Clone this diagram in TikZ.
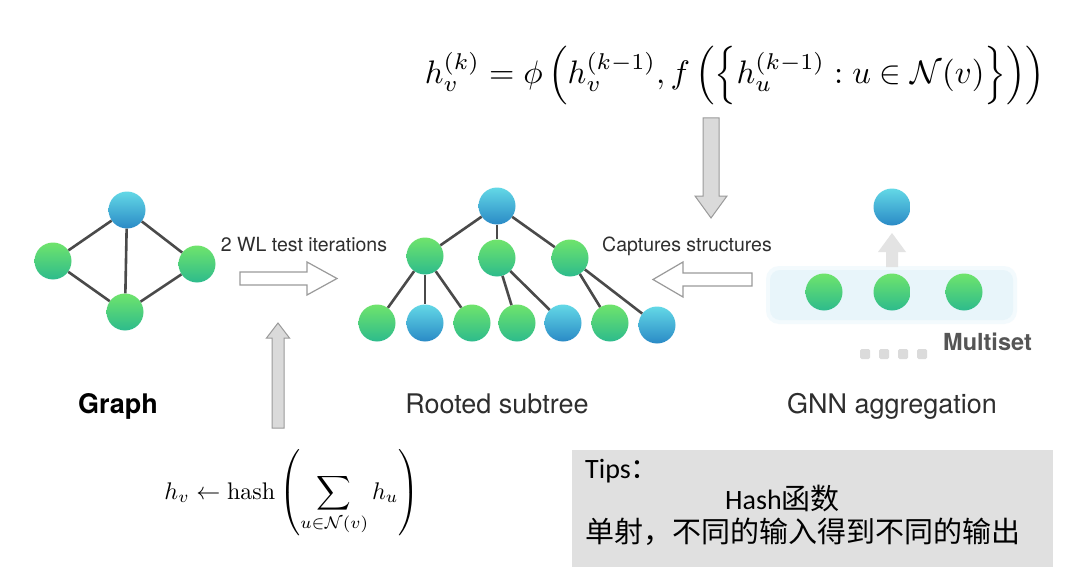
\documentclass[tikz,border=0pt]{standalone}
\usepackage{fontspec}
\setsansfont{TeX Gyre Heros}
\newfontfamily\cjkfont{Noto Sans CJK SC}
\newfontfamily\calfont{Carlito}
\usepackage{amsmath,graphicx}
\usetikzlibrary{calc,backgrounds}
\definecolor{gtop}{HTML}{6FE46C}
\definecolor{gbot}{HTML}{2DBB8C}
\definecolor{btop}{HTML}{63D8E6}
\definecolor{bbot}{HTML}{2A8AC6}
\definecolor{edgec}{HTML}{4A4A4A}
\definecolor{labelc}{HTML}{2E2E2E}
\definecolor{multic}{HTML}{555555}
\definecolor{tipc}{HTML}{E0E0E0}
\definecolor{arrowfill}{HTML}{DADADA}
\definecolor{arrowline}{HTML}{9A9A9A}
\definecolor{setc}{HTML}{E8F5FA}
\definecolor{setglow}{HTML}{F3FAFD}
\begin{document}
\begin{tikzpicture}[x=1pt,y=-1pt,
 gnode/.style={circle,inner sep=0pt,minimum size=37pt,top color=gtop,bottom color=gbot},
 bnode/.style={circle,inner sep=0pt,minimum size=37pt,top color=btop,bottom color=bbot},
 link/.style={draw=edgec,line width=2.6pt},
 lbl/.style={font=\sffamily\fontsize{19.5}{22}\selectfont,text=labelc,anchor=base,inner sep=0pt},
 title/.style={font=\sffamily\fontsize{27}{30}\selectfont,text=labelc,anchor=base,inner sep=0pt},
 hollow/.style={draw=arrowline,line width=1.2pt,fill=white,line join=miter},
 grayarrow/.style={draw=arrowline,line width=1pt,fill=arrowfill},
 nshadow/.style={fill=black,opacity=0.10},
 floor/.style={fill=black,opacity=0.04},
 tiptext/.style={anchor=base west,inner sep=0pt,text=black},
]
\useasboundingbox (0,0) rectangle (1080,578);
\fill[white] (0,0) rectangle (1080,578);

% ---------- formulas ----------
\node[inner sep=0pt] (fgnn) at (735,75) {\resizebox{620pt}{!}{$\displaystyle h_v^{(k)} = \phi\left(h_v^{(k-1)}, f\left(\left\{h_u^{(k-1)} : u \in \mathcal{N}(v)\right\}\right)\right)$}};
\node[inner sep=0pt] (fhash) at (292,493) {\resizebox{255pt}{!}{$\displaystyle h_v \leftarrow \mathrm{hash}\left(\sum_{u\in\mathcal{N}(v)} h_u\right)$}};

% ---------- graph ----------
\node[bnode] (g1) at (127,210) {};
\node[gnode] (g2) at (53,261) {};
\node[gnode] (g3) at (197,264) {};
\node[gnode] (g4) at (125,312) {};
\draw[link] (g1) -- (g2);
\draw[link] (g1) -- (g3);
\draw[link] (g1) -- (g4);
\draw[link] (g2) -- (g4);
\draw[link] (g3) -- (g4);
\node[title,font=\sffamily\bfseries\fontsize{27}{30}\selectfont,text=black] (tgraph) at (118,413) {Graph};

% ---------- rooted subtree ----------
\node[bnode] (r) at (497,206) {};
\node[gnode] (a1) at (425,256) {};
\node[gnode] (a2) at (497,258) {};
\node[gnode] (a3) at (570,258) {};
\node[gnode] (l1) at (377,323) {};
\node[bnode] (l2) at (425,323) {};
\node[gnode] (l3) at (472,323) {};
\node[gnode] (l4) at (517,323) {};
\node[bnode] (l5) at (563,323) {};
\node[gnode] (l6) at (610,323) {};
\node[bnode] (l7) at (657,325) {};
\foreach \c in {a1,a2,a3} \draw[link] (r) -- (\c);
\foreach \c in {l1,l2,l3} \draw[link] (a1) -- (\c);
\foreach \c in {l4,l5} \draw[link] (a2) -- (\c);
\foreach \c in {l6,l7} \draw[link] (a3) -- (\c);
\node[title] (trooted) at (497,413) {Rooted subtree};

% ---------- GNN aggregation ----------
\node[fill=setglow,rounded corners=13pt,minimum width=251pt,minimum height=58pt,inner sep=0pt] (msetglow) at (891.5,295) {};
\node[fill=setc,rounded corners=10pt,minimum width=243pt,minimum height=50pt,inner sep=0pt] (mset) at (891.5,295) {};
\node[gnode] (m1) at (824,292) {};
\node[gnode] (m2) at (892,292) {};
\node[gnode] (m3) at (964,292) {};
\node[bnode] (mtop) at (892,207) {};
\fill[gray!22] (886,267) -- (886,252) -- (878,252) -- (892,233) -- (906,252) -- (898,252) -- (898,267) -- cycle;
\foreach \x in {865,884,903,922}
  \fill[gray!28,rounded corners=1.5pt] (\x-5,349) rectangle (\x+5,359);
\node[anchor=base west,inner sep=0pt,font=\sffamily\bfseries\fontsize{23.5}{26}\selectfont,text=multic] (tmulti) at (943,350) {Multiset};
\node[title] (tgnn) at (892,413) {GNN aggregation};

% ---------- node shadows and floor ----------
\begin{scope}[on background layer]
\fill[floor] (125,285) ellipse (115 and 2.5);
\fill[floor] (515,345) ellipse (165 and 2.5);
\foreach \n in {g1,g2,g3,g4,r,a1,a2,a3,l1,l2,l3,l4,l5,l6,l7,m1,m2,m3,mtop}
  \fill[nshadow] ($(\n.south)+(0,-1)$) ellipse (20 and 3);
\end{scope}

% ---------- labels and block arrows ----------
\node[lbl] (twl) at (304,251) {2 WL test iterations};
\node[lbl] (tcap) at (687,251) {Captures structures};
\draw[hollow] (240,272) -- (307,272) -- (307,262) -- (337,278.5) -- (307,295) -- (307,285) -- (240,285) -- cycle;
\draw[hollow] (752,273) -- (683,273) -- (683,262) -- (653,279.5) -- (683,297) -- (683,286) -- (752,286) -- cycle;
\draw[grayarrow] (272,428) -- (272,338) -- (266.5,338) -- (278,323) -- (289.5,338) -- (284,338) -- (284,428) -- cycle;
\draw[grayarrow] (703,118) -- (703,196) -- (695,196) -- (711,218) -- (727,196) -- (719,196) -- (719,118) -- cycle;

% ---------- tips box ----------
\node[fill=tipc,anchor=north west,minimum width=481pt,minimum height=117pt,inner sep=0pt] (tips) at (572,450) {};
\node[tiptext,font=\calfont\fontsize{28}{30}\selectfont] (tips1) at (585,478) {Tips{\cjkfont ：}};
\node[tiptext,font=\calfont\fontsize{28}{30}\selectfont] (tips2) at (725,509) {Hash{\cjkfont\fontsize{29}{30}\selectfont 函数}};
\node[tiptext,font=\cjkfont\fontsize{29}{32}\selectfont] (tips3) at (585,542) {单射，不同的输入得到不同的输出};
\end{tikzpicture}
\end{document}
